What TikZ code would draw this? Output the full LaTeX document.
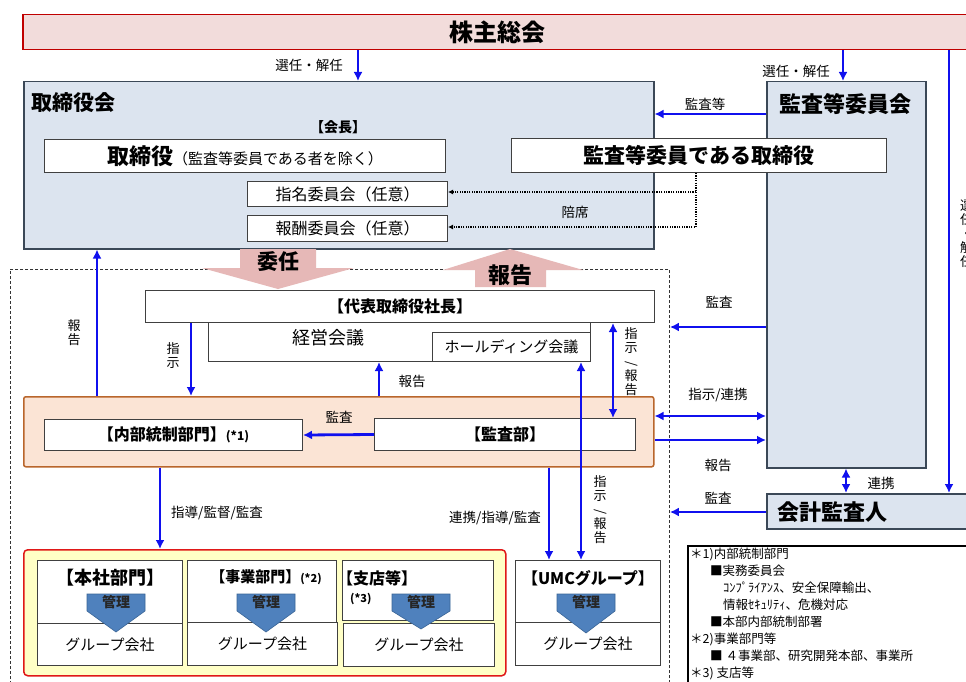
\documentclass[tikz,border=0pt]{standalone}
\usepackage{fontspec}
\usepackage{graphicx}
\setmainfont{Noto Sans CJK JP}
\usetikzlibrary{arrows.meta,calc}
\definecolor{shpink}{HTML}{F2DCDB}
\definecolor{shred}{HTML}{C00000}
\definecolor{tbfill}{HTML}{DCE4EF}
\definecolor{tbline}{HTML}{3B4857}
\definecolor{inin}{HTML}{E6B8B7}
\definecolor{orfill}{HTML}{FBE4D5}
\definecolor{orline}{HTML}{B9662C}
\definecolor{yfill}{HTML}{FFFFC6}
\definecolor{yline}{HTML}{E01818}
\definecolor{kanri}{HTML}{4F81BD}
\definecolor{kanriline}{HTML}{3A6596}
\definecolor{arblue}{HTML}{1010EE}
\definecolor{bxline}{HTML}{404040}
\newcommand{\fz}[1]{\fontsize{#1}{#1}\selectfont}
\newcommand{\vsl}{\rotatebox{90}{/}}
\newcommand{\kanriarrow}[3]{%
  \draw[kanriline, fill=kanri, line width=0.6pt] (#1-29,594) -- (#1+29,594) -- (#1+29,611) -- (#1,#3) -- (#1-29,611) -- cycle;
  \node[font=\fz{14}\bfseries, text=black!85] (#2) at (#1,602) {管理};}
\tikzset{
  wbox/.style={draw=bxline, line width=1pt, fill=white, inner sep=0pt, anchor=north west},
  bigbox/.style={draw=tbline, fill=tbfill, line width=1.5pt, inner sep=0pt, anchor=north west},
  blarrow/.style={draw=arblue, line width=2.8pt, -{Latex[length=9pt,width=9pt]}},
  blboth/.style={draw=arblue, line width=2.8pt, {Latex[length=9pt,width=9pt]}-{Latex[length=9pt,width=9pt]}},
  dotline/.style={draw=black, line width=1.4pt, dash pattern=on 1.2pt off 1.2pt, -{Latex[length=5pt,width=5pt]}},
  lab/.style={font=\fz{13.5}, inner sep=0pt},
  vlab/.style={font=\fontsize{13}{14}\selectfont, align=center, inner sep=0pt},
  pinkar/.style={fill=inin, draw=none}
}
\begin{document}
\begin{tikzpicture}[x=1pt, y=-1pt]
\useasboundingbox (0,0) rectangle (966,682);
\fill[white] (0,0) rectangle (966,682);

% shareholders meeting
\node[draw=shred, fill=shpink, line width=1.5pt, minimum width=960pt, minimum height=35pt, anchor=north west, inner sep=0pt] (sh) at (22,14) {};
\node[font=\fz{24}\bfseries] (sht) at (497,32) {株主総会};

% board of directors
\node[bigbox, minimum width=630pt, minimum height=167pt] (tb) at (23,81) {};
\node[anchor=west, font=\fz{21}\bfseries, inner sep=0pt] (tbt) at (31,103) {取締役会};
\node[font=\fz{14}\bfseries] (kaicho) at (338,127) {【会長】};
\node[wbox, minimum width=401pt, minimum height=33pt] (tsy) at (44,139) {{\fz{22}\bfseries 取締役}{\fz{15}（監査等委員である者を除く）}};
\node[wbox, minimum width=200pt, minimum height=25pt, font=\fz{16}] (shimei) at (247,181) {指名委員会（任意）};
\node[wbox, minimum width=200pt, minimum height=26pt, font=\fz{16}] (hoshu) at (247,215) {報酬委員会（任意）};

% audit and supervisory committee
\node[bigbox, minimum width=159pt, minimum height=386pt] (kiin) at (766,81) {};
\node[font=\fz{22}\bfseries] (kiint) at (845,104) {監査等委員会};
\node[wbox, minimum width=375pt, minimum height=34pt, font=\fz{21}\bfseries] (ktt) at (511,138) {監査等委員である取締役};

% accounting auditor
\node[bigbox, minimum width=220pt, minimum height=35pt] (kaikei) at (766,493) {};
\node[anchor=west, font=\fz{22}\bfseries, inner sep=0pt] (kaikeit) at (777,512) {会計監査人};

% dashed frame
\node[draw=black!80, dash pattern=on 3pt off 2pt, line width=0.9pt, minimum width=659pt, minimum height=440pt, anchor=north west, inner sep=0pt] (frame) at (10,269) {};

% big pink arrows
\fill[pinkar] (240,249) -- (316,249) -- (316,268) -- (354,268) -- (278,289) -- (202,268) -- (240,268) -- cycle;
\node[font=\fz{21}\bfseries] (inint) at (278,262) {委任};
\fill[pinkar] (510,249) -- (583,270) -- (546,270) -- (546,287) -- (475,287) -- (475,270) -- (443,270) -- cycle;
\node[font=\fz{22}\bfseries] (hokokut) at (510,275) {報告};

% president and meetings
\node[wbox, minimum width=382pt, minimum height=39pt] (keiei) at (208,322) {};
\node[wbox, minimum width=509pt, minimum height=32pt, font=\fz{16}\bfseries] (daihyo) at (145,290) {【代表取締役社長】};
\node[font=\fz{18}] (keieit) at (328,338) {経営会議};
\node[wbox, minimum width=158pt, minimum height=29pt, font=\fz{15}] (hd) at (432,332) {ホールディング会議};

% orange band
\node[draw=orline, fill=orfill, line width=1.5pt, rounded corners=2pt, minimum width=630pt, minimum height=70pt, anchor=north west, inner sep=0pt] (org) at (23,396) {};
\node[wbox, minimum width=258pt, minimum height=31pt] (naibu) at (44,419) {{\fz{16}\bfseries 【内部統制部門】}{\fz{12}\bfseries (*1)}};
\node[wbox, minimum width=261pt, minimum height=32pt, font=\fz{16}\bfseries] (kansabu) at (374,418) {【監査部】};

% yellow group
\node[draw=yline, fill=yfill, line width=1.5pt, rounded corners=4pt, minimum width=482pt, minimum height=126pt, anchor=north west, inner sep=0pt] (ybox) at (23,549) {};
\node[wbox, minimum width=145pt, minimum height=63pt] (honsha) at (37,560) {};
\node[wbox, minimum width=145pt, minimum height=42pt, font=\fz{15}] (honshag) at (37,623) {グループ会社};
\node[wbox, minimum width=149pt, minimum height=62pt] (jigyo) at (187,560) {};
\node[wbox, minimum width=150pt, minimum height=43pt, font=\fz{15}] (jigyog) at (187,622) {グループ会社};
\node[wbox, minimum width=151pt, minimum height=60pt] (shiten) at (342,560) {};
\node[wbox, minimum width=151pt, minimum height=43pt, font=\fz{15}] (shiteng) at (343,623) {グループ会社};
\node[font=\fz{18}\bfseries] (honshat) at (110,578) {【本社部門】};
\node[font=\fz{15}\bfseries] (jigyot) at (266,577) {【事業部門】{\fz{11}(*2)}};
\node[anchor=west, font=\fz{16}\bfseries, inner sep=0pt] (shitent) at (337,578) {【支店等】};
\node[anchor=west, font=\fz{11}\bfseries, inner sep=0pt] (shitenn) at (350,599) {(*3)};

% UMC group
\node[wbox, minimum width=145pt, minimum height=62pt] (umc) at (515,560) {};
\node[wbox, minimum width=145pt, minimum height=43pt, font=\fz{15}] (umcg) at (515,622) {グループ会社};
\node[font=\fz{16}\bfseries] (umct) at (588,578) {【UMCグループ】};

\kanriarrow{116}{k1}{632}
\kanriarrow{266}{k2}{632}
\kanriarrow{421}{k3}{629}
\kanriarrow{586}{k4}{633}

% legend
\node[draw=black, line width=2pt, fill=white, minimum width=300pt, minimum height=200pt, anchor=north west, inner sep=0pt] (leg) at (687,545) {};
\node[anchor=north west, align=left, font=\fontsize{12.5}{17}\selectfont, inner sep=0pt] (legt) at (690,548) {%
＊1)内部統制部門\\
\hspace*{20pt}■実務委員会\\
\hspace*{33pt}ｺﾝﾌﾟﾗｲｱﾝｽ、安全保障輸出、\\
\hspace*{33pt}情報ｾｷｭﾘﾃｨ、危機対応\\
\hspace*{20pt}■本部内部統制部署\\
＊2)事業部門等\\
\hspace*{20pt}■ ４事業部、研究開発本部、事業所\\
＊3) 支店等};

% partial text at right edge
\node[anchor=north west, vlab] (edget) at (960,200) {選\\任\\・\\解\\任};

% blue connectors
\draw[blarrow] (358,0 |- sh.south) -- (358,0 |- tb.north);
\draw[blarrow] (843,0 |- sh.south) -- (843,0 |- kiin.north);
\draw[blarrow] (kiin.west |- 0,114) -- (tb.east |- 0,114);
\draw[blarrow] (949,0 |- sh.south) -- (949,0 |- kaikei.north);
\draw[blarrow] (kiin.west |- 0,327) -- (frame.east |- 0,327);
\draw[blboth] (org.east |- 0,416) -- (kiin.west |- 0,416);
\draw[blarrow] (org.east |- 0,440) -- (kiin.west |- 0,440);
\draw[blboth] (846,0 |- kiin.south) -- (846,0 |- kaikei.north);
\draw[blarrow] (kaikei.west |- 0,512) -- (frame.east |- 0,512);
\draw[blarrow] (97,0 |- org.north) -- (97,0 |- tb.south);
\draw[blarrow] (191,0 |- daihyo.south) -- (191,0 |- org.north);
\draw[blarrow] (379,0 |- org.north) -- (379,0 |- keiei.south);
\draw[blboth] (613,0 |- daihyo.south) -- (613,0 |- kansabu.north);
\draw[blarrow] (kansabu.west) -- (naibu.east);
\draw[blarrow] (160,0 |- org.south) -- (160,0 |- ybox.north);
\draw[blarrow] (549,0 |- org.south) -- (549,0 |- umc.north);
\draw[blboth] (581,0 |- hd.south) -- (581,0 |- umc.north);

% dotted connectors
\draw[dotline] (696,0 |- ktt.south) -- (696,227) -- (hoshu.east |- 0,227);
\draw[dotline] (696,192) -- (shimei.east |- 0,192);

% labels
\node[lab] (l1) at (309,65) {選任・解任};
\node[lab] (l2) at (796,71) {選任・解任};
\node[lab] (l3) at (705,104) {監査等};
\node[lab] (l4) at (575,212) {陪席};
\node[lab] (l5) at (719,302) {監査};
\node[lab] (l6) at (718,395) {指示/連携};
\node[lab] (l7) at (718,465) {報告};
\node[lab] (l8) at (881,483) {連携};
\node[lab] (l9) at (718,498) {監査};
\node[lab] (l10) at (412,381) {報告};
\node[lab] (l11) at (339,417) {監査};
\node[lab] (l12) at (217,513) {指導/監督/監査};
\node[lab] (l13) at (495,518) {連携/指導/監査};
\node[vlab] (v1) at (74,333) {報\\告};
\node[vlab] (v2) at (173,356) {指\\示};
\node[vlab] (v3) at (631,362) {指\\示\\\vsl\\報\\告};
\node[vlab] (v4) at (600,510) {指\\示\\\vsl\\報\\告};
\end{tikzpicture}
\end{document}
